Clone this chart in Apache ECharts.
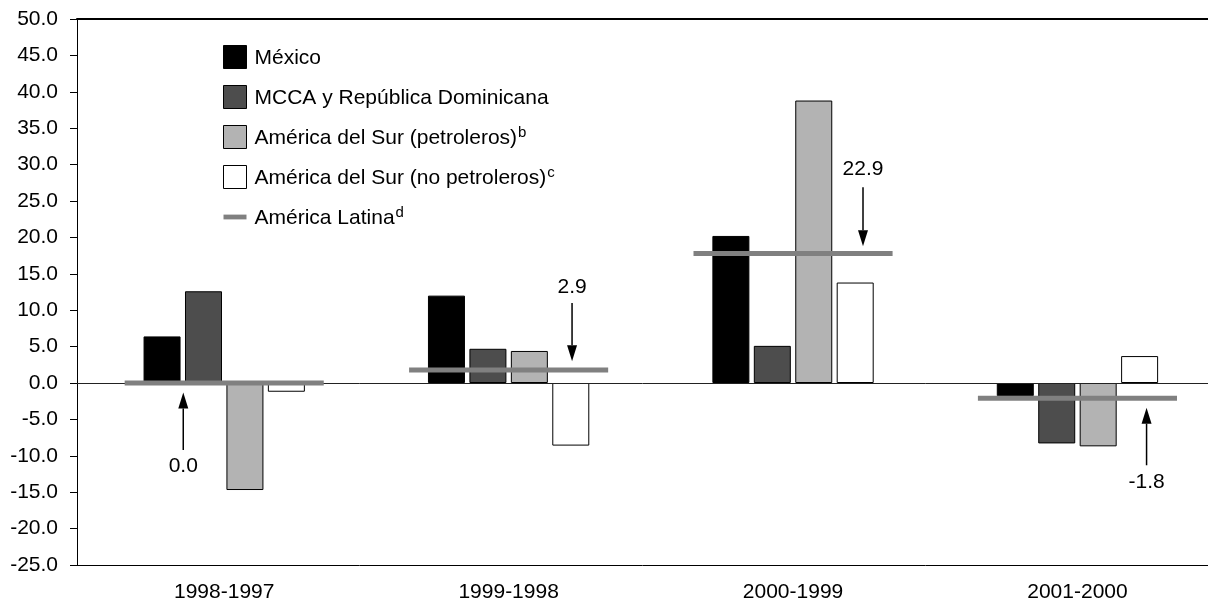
<!DOCTYPE html>
<html>
<head>
<meta charset="utf-8">
<script src="https://cdn.jsdelivr.net/npm/echarts@6/dist/echarts.min.js"></script>
<style>
html,body{margin:0;padding:0;background:#fff;}
#chart{width:1208px;height:605px;}
</style>
</head>
<body>
<div id="chart"></div>
<script>
// ---- data ----
const categories = ['1998-1997', '1999-1998', '2000-1999', '2001-2000'];
const mexico = [6.4, 12.0, 20.2, -1.8];
const mcca = [12.6, 4.7, 5.1, -8.3];
const surPetroleros = [-14.7, 4.4, 38.8, -8.7];
const surNoPetroleros = [-1.2, -8.6, 13.8, 3.7];
const latina = [0.0, 1.8, 17.8, -2.1];
const latinaLabels = ['0.0', '2.9', '22.9', '-1.8'];
const seriesNames = ['México', 'MCCA y República Dominicana', 'América del Sur (petroleros)', 'América del Sur (no petroleros)', 'América Latina'];
const seriesNotes = ['', '', 'b', 'c', 'd'];
const yMin = -25, yMax = 50, yStep = 5;
// annotation anchors (data units): offset from category, arrow start, arrow tip, label value
const annOffset = [-0.144, 0.223, 0.246, 0.243];
const annFrom = [-9.2, 11.0, 26.9, -11.3];
const annTo = [-1.3, 3.0, 18.8, -3.4];
const annLabelY = [-11.4, 13.1, 29.3, -13.6];

// ---- chart ----
const FONT = 'Liberation Sans, Arial, sans-serif';
const xMin = -0.5176, xMax = 3.459;
const chart = echarts.init(document.getElementById('chart'), null, {renderer: 'canvas'});

const barBase = {
  type: 'bar',
  barWidth: 37,
  barGap: '12%',
  xAxisIndex: 0,
  itemStyle: {borderColor: '#000', borderWidth: 1},
  z: 2
};

const option = {
  animation: false,
  backgroundColor: '#fff',
  textStyle: {fontFamily: FONT},
  grid: {left: 77, right: 0, top: 19, bottom: 40, containLabel: false},
  legend: {
    orient: 'vertical',
    left: 223,
    top: 45,
    padding: 0,
    itemWidth: 23,
    itemHeight: 23,
    itemGap: 16,
    selectedMode: false,
    icon: 'rect',
    itemStyle: {borderColor: '#000', borderWidth: 1},
    data: seriesNames.map((n, i) => i === 4
      ? {name: n, icon: 'path://M0,10 L24,10 L24,15 L0,15 Z', itemStyle: {color: '#808080', borderWidth: 0}}
      : {name: n}),
    formatter: function (name) {
      const i = seriesNames.indexOf(name);
      return '{n|' + name + '}' + (seriesNotes[i] ? '{s|' + seriesNotes[i] + '}' : '');
    },
    textStyle: {
      color: '#000',
      fontFamily: FONT,
      fontSize: 21,
      padding: [0, 0, 0, 3],
      rich: {
        n: {fontSize: 21, fontFamily: FONT, color: '#000', lineHeight: 24, verticalAlign: 'bottom'},
        s: {fontSize: 15, fontFamily: FONT, color: '#000', lineHeight: 22, verticalAlign: 'top', padding: [0, 0, 0, 1]}
      }
    }
  },
  xAxis: [
    {
      type: 'value', min: xMin, max: xMax, position: 'bottom',
      axisLine: {show: true, onZero: false, lineStyle: {color: '#000', width: 1}},
      axisTick: {show: false},
      splitLine: {show: false},
      axisLabel: {
        customValues: categories.map((c, i) => i),
        formatter: v => categories[Math.round(v)] || '',
        fontSize: 21, fontFamily: FONT, color: '#000', margin: 17
      }
    },
    {
      type: 'value', min: xMin, max: xMax, position: 'top',
      axisLine: {show: true, onZero: false, lineStyle: {color: '#000', width: 2}},
      axisTick: {show: false}, axisLabel: {show: false}, splitLine: {show: false}
    }
  ],
  yAxis: {
    type: 'value', min: yMin, max: yMax, interval: yStep,
    axisLine: {show: true, onZero: false, lineStyle: {color: '#000', width: 1}},
    axisTick: {show: true, length: 7, inside: false, lineStyle: {color: '#000'}},
    splitLine: {show: false},
    axisLabel: {formatter: v => v.toFixed(1), fontSize: 21, fontFamily: FONT, color: '#000', margin: 19}
  },
  series: [
    Object.assign({}, barBase, {
      name: seriesNames[0], data: mexico.map((v, i) => [i, v]),
      itemStyle: {color: '#000', borderColor: '#000', borderWidth: 1},
      markLine: {
        silent: true, symbol: 'none', label: {show: false},
        lineStyle: {color: '#222', width: 1, type: 'solid'},
        emphasis: {disabled: true},
        data: [{yAxis: 0}]
      }
    }),
    Object.assign({}, barBase, {name: seriesNames[1], data: mcca.map((v, i) => [i, v]), itemStyle: {color: '#4d4d4d', borderColor: '#000', borderWidth: 1}}),
    Object.assign({}, barBase, {name: seriesNames[2], data: surPetroleros.map((v, i) => [i, v]), itemStyle: {color: '#b3b3b3', borderColor: '#000', borderWidth: 1}}),
    Object.assign({}, barBase, {name: seriesNames[3], data: surNoPetroleros.map((v, i) => [i, v]), itemStyle: {color: '#fff', borderColor: '#000', borderWidth: 1}}),
    {
      type: 'custom', name: seriesNames[4], xAxisIndex: 0, z: 5,
      itemStyle: {color: '#808080'},
      data: latina.map((v, i) => [i, v]),
      renderItem: function (params, api) {
        const x = api.value(0), y = api.value(1);
        const p1 = api.coord([x - 0.35, y]);
        const p2 = api.coord([x + 0.35, y]);
        return {type: 'line', shape: {x1: p1[0], y1: p1[1], x2: p2[0], y2: p2[1]}, style: {stroke: '#808080', lineWidth: 5}};
      }
    },
    {
      type: 'custom', name: 'annotations', xAxisIndex: 0, z: 6, silent: true,
      data: categories.map((c, i) => [i + annOffset[i], annFrom[i], annTo[i], annLabelY[i]]),
      renderItem: function (params, api) {
        const x = api.value(0);
        const a = api.coord([x, api.value(1)]);
        const b = api.coord([x, api.value(2)]);
        const t = api.coord([x, api.value(3)]);
        const dir = b[1] > a[1] ? 1 : -1;
        const headL = 16, headW = 5;
        const hb = b[1] - dir * headL;
        return {
          type: 'group',
          children: [
            {type: 'line', shape: {x1: a[0], y1: a[1], x2: b[0], y2: hb}, style: {stroke: '#000', lineWidth: 1.5}},
            {type: 'polygon', shape: {points: [[b[0], b[1]], [b[0] - headW, hb], [b[0] + headW, hb]]}, style: {fill: '#000'}},
            {type: 'text', style: {text: latinaLabels[params.dataIndex], x: t[0], y: t[1], align: 'center', verticalAlign: 'middle', textAlign: 'center', textVerticalAlign: 'middle', fontSize: 21, fontFamily: FONT, fill: '#000'}}
          ]
        };
      }
    }
  ]
};
chart.setOption(option);
</script>
</body>
</html>
